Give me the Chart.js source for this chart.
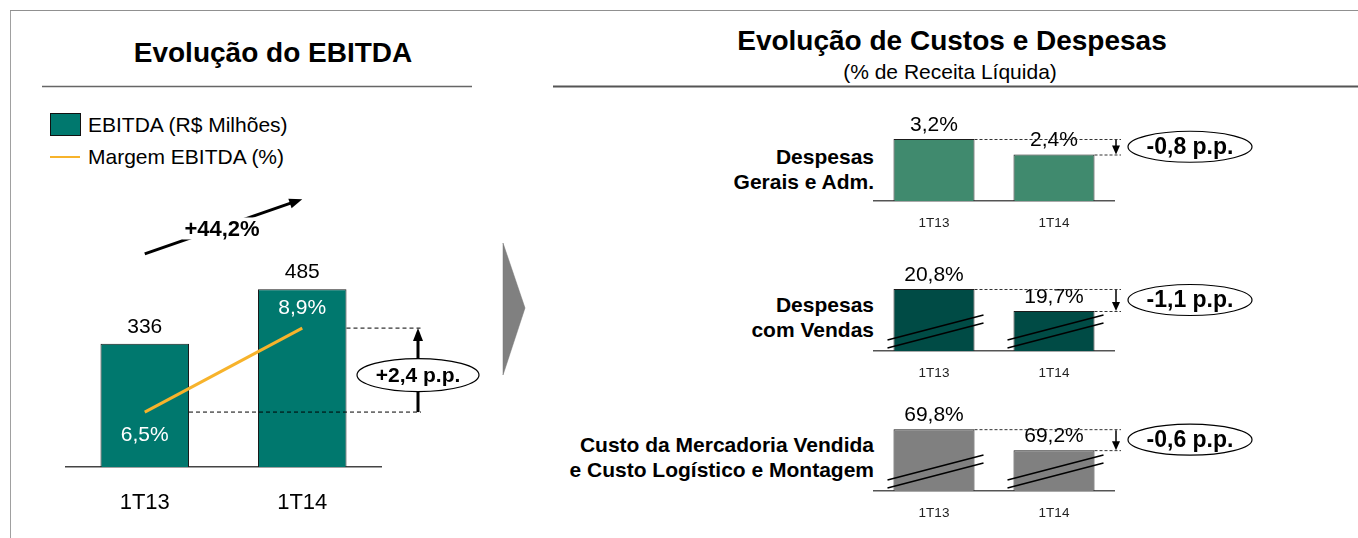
<!DOCTYPE html>
<html><head><meta charset="utf-8">
<script src="https://cdn.jsdelivr.net/npm/chart.js@4.4.1/dist/chart.umd.min.js"></script>
<style>
html,body{margin:0;padding:0;background:#fff;}
body{width:1358px;height:538px;position:relative;overflow:hidden;font-family:"Liberation Sans",Arial,sans-serif;color:#000;}
.abs{position:absolute;}
canvas{position:absolute;}
.title{font-weight:bold;font-size:28px;text-align:center;white-space:nowrap;line-height:32px;}
.rowlab{position:absolute;font-weight:bold;font-size:21px;line-height:25px;text-align:right;white-space:nowrap;}
.leg{position:absolute;font-size:21px;line-height:24px;white-space:nowrap;}
</style></head>
<body>
<svg class="abs" style="left:0;top:0" width="1358" height="538">
 <line x1="10.5" y1="10" x2="10.5" y2="538" stroke="#a0a0a0" stroke-width="1"/>
 <line x1="10" y1="10.5" x2="1358" y2="10.5" stroke="#909090" stroke-width="1"/>
 <line x1="42" y1="86.5" x2="472" y2="86.5" stroke="#666" stroke-width="1.5"/>
 <line x1="553" y1="86.5" x2="1358" y2="86.5" stroke="#555" stroke-width="2"/>
 <polygon points="503,243 525,308 503,375" fill="#808080" stroke="#777" stroke-width="0.5"/>
</svg>
<div class="abs title" style="left:73px;top:37px;width:400px;">Evolução do EBITDA</div>
<div class="abs title" style="left:652px;top:25px;width:600px;">Evolução de Custos e Despesas</div>
<div class="abs" style="left:650px;top:60px;width:600px;text-align:center;font-size:21px;line-height:24px;">(% de Receita Líquida)</div>

<div class="abs" id="legBox" style="left:50px;top:113px;width:29px;height:21px;border:1px solid #111;"></div>
<div class="leg" id="leg0" style="left:88px;top:113px;"></div>
<div class="abs" id="legLine" style="left:50px;top:156px;width:30px;height:2px;"></div>
<div class="leg" id="leg1" style="left:88px;top:145px;"></div>

<div class="rowlab" id="row0" style="right:484px;top:144px;"></div>
<div class="rowlab" id="row1" style="right:484px;top:292px;"></div>
<div class="rowlab" id="row2" style="right:484px;top:432px;"></div>

<canvas id="c0" width="540" height="600" style="left:0;top:0"></canvas>
<canvas id="c1" width="420" height="170" style="left:860px;top:86px"></canvas>
<canvas id="c2" width="420" height="170" style="left:860px;top:236px"></canvas>
<canvas id="c3" width="420" height="170" style="left:860px;top:376px"></canvas>

<script>
// ---------- data ----------
const categories = ['1T13', '1T14'];
const seriesNames = ['EBITDA (R$ Milhões)', 'Margem EBITDA (%)'];
const ebitda = [336, 485];
const margemEbitda = [6.5, 8.9];
const ebitdaGrowth = '+44,2%';
const margemDelta = '+2,4 p.p.';

const rowLabels = [
  ['Despesas', 'Gerais e Adm.'],
  ['Despesas', 'com Vendas'],
  ['Custo da Mercadoria Vendida', 'e Custo Logístico e Montagem']
];
const despGerais = [3.2, 2.4];
const despVendas = [20.8, 19.7];
const custoMerc = [69.8, 69.2];
const deltas = ['-0,8 p.p.', '-1,1 p.p.', '-0,6 p.p.'];

// ---------- style ----------
const FONT = '"Liberation Sans", Arial, sans-serif';
const TEAL = '#00786E';
const ORANGE = '#F7B32B';
const panelColors = ['#408A6E', '#004B45', '#808080'];

const fmtPct = v => v.toFixed(1).replace('.', ',') + '%';

document.getElementById('leg0').textContent = seriesNames[0];
document.getElementById('leg1').textContent = seriesNames[1];
document.getElementById('legBox').style.background = TEAL;
document.getElementById('legLine').style.background = ORANGE;
rowLabels.forEach((r, i) => { document.getElementById('row' + i).innerHTML = r.join('<br>'); });

function arrowHead(ctx, x0, y0, x1, y1, len, half) {
  const a = Math.atan2(y1 - y0, x1 - x0);
  ctx.beginPath();
  ctx.moveTo(x1, y1);
  ctx.lineTo(x1 - len * Math.cos(a) + half * Math.sin(a), y1 - len * Math.sin(a) - half * Math.cos(a));
  ctx.lineTo(x1 - len * Math.cos(a) - half * Math.sin(a), y1 - len * Math.sin(a) + half * Math.cos(a));
  ctx.closePath();
  ctx.fill();
}

// ---------- left chart ----------
const leftAnno = {
  id: 'leftAnno',
  afterDatasetsDraw(chart) {
    const ctx = chart.ctx;
    const bars = chart.getDatasetMeta(1).data.map(e => e.getProps(['x', 'y', 'base', 'width'], true));
    const pts = chart.getDatasetMeta(0).data.map(e => e.getProps(['x', 'y'], true));
    ctx.save();
    ctx.textAlign = 'center';
    ctx.textBaseline = 'middle';
    ctx.fillStyle = '#000';
    ctx.font = '21px ' + FONT;
    bars.forEach((b, i) => ctx.fillText(String(ebitda[i]), b.x, b.y - 17));
    ctx.fillStyle = '#fff';
    const offs = [23, -20];
    pts.forEach((p, i) => ctx.fillText(fmtPct(margemEbitda[i]), p.x, p.y + offs[i]));
    const xA = chart.chartArea.right + 37;
    ctx.strokeStyle = '#000';
    ctx.lineWidth = 1;
    ctx.setLineDash([4, 3]);
    ctx.beginPath();
    ctx.moveTo(bars[1].x + bars[1].width / 2, pts[1].y); ctx.lineTo(xA + 3, pts[1].y);
    ctx.moveTo(bars[0].x + bars[0].width / 2, pts[0].y); ctx.lineTo(xA + 3, pts[0].y);
    ctx.stroke();
    ctx.setLineDash([]);
    ctx.lineWidth = 3;
    ctx.beginPath(); ctx.moveTo(xA, pts[0].y); ctx.lineTo(xA, pts[1].y + 10); ctx.stroke();
    ctx.fillStyle = '#000';
    arrowHead(ctx, xA, pts[0].y, xA, pts[1].y, 13, 5);
    const cy = (pts[0].y + pts[1].y) / 2 + 5;
    ctx.beginPath(); ctx.ellipse(xA, cy, 61, 16.5, 0, 0, Math.PI * 2);
    ctx.fillStyle = '#fff'; ctx.fill();
    ctx.lineWidth = 1.2; ctx.strokeStyle = '#000'; ctx.stroke();
    ctx.fillStyle = '#000';
    ctx.font = 'bold 21px ' + FONT;
    ctx.fillText(margemDelta, xA, cy + 1);
    const x0 = bars[0].x, y0 = bars[0].y - 90, x1 = bars[1].x, y1 = bars[1].y - 90;
    ctx.lineWidth = 3;
    ctx.beginPath(); ctx.moveTo(x0, y0); ctx.lineTo(x1 - 8, y1 + 8 * (y0 - y1) / (x1 - x0)); ctx.stroke();
    arrowHead(ctx, x0, y0, x1, y1, 13, 5);
    ctx.font = 'bold 22px ' + FONT;
    const mx = (x0 + x1) / 2 - 1.5, my = (y0 + y1) / 2 + 3;
    const tw = ctx.measureText(ebitdaGrowth).width;
    ctx.fillStyle = '#fff';
    ctx.fillRect(mx - tw / 2 - 2, my - 12, tw + 4, 22);
    ctx.fillStyle = '#000';
    ctx.fillText(ebitdaGrowth, mx, my);
    ctx.restore();
  }
};

new Chart(document.getElementById('c0'), {
  type: 'bar',
  data: {
    labels: categories,
    datasets: [
      { type: 'line', label: seriesNames[1], data: margemEbitda, yAxisID: 'y2', borderColor: ORANGE, borderWidth: 3, pointRadius: 0, order: 0 },
      { type: 'bar', label: seriesNames[0], data: ebitda, yAxisID: 'y', backgroundColor: TEAL, borderColor: '#1a1a1a', borderWidth: 1, categoryPercentage: 0.562, barPercentage: 1, order: 1 }
    ]
  },
  options: {
    responsive: false, animation: false, devicePixelRatio: 1,
    layout: { padding: { left: 66, right: 159, top: 192, bottom: 61 } },
    plugins: { legend: { display: false }, tooltip: { enabled: false } },
    scales: {
      x: { grid: { display: false, drawTicks: false }, border: { display: true, color: '#444', width: 1.5 },
           ticks: { font: { size: 22, family: FONT }, color: '#000', padding: 23 },
           afterFit: s => { s.height = 72; } },
      y: { display: false, min: 0, max: 750 },
      y2: { display: false, min: 4.93, max: 12.79, position: 'right' }
    }
  },
  plugins: [leftAnno]
});

// ---------- right panels ----------
const panelDeltaByChart = new Map();
const panelAnno = {
  id: 'panelAnno',
  afterDatasetsDraw(chart) {
    const ctx = chart.ctx;
    const bars = chart.getDatasetMeta(0).data.map(e => e.getProps(['x', 'y', 'width'], true));
    const vals = chart.data.datasets[0].data;
    const base = chart.chartArea.bottom;
    const broken = chart.scales.y.min > 0;   // axis does not start at zero -> break marks
    ctx.save();
    ctx.textAlign = 'center';
    ctx.textBaseline = 'middle';
    ctx.fillStyle = '#000';
    ctx.font = '21px ' + FONT;
    bars.forEach((b, i) => ctx.fillText(fmtPct(vals[i]), b.x, b.y - 14));
    if (broken) {
      ctx.strokeStyle = '#000';
      ctx.lineWidth = 1.5;
      bars.forEach(b => {
        const l = b.x - b.width / 2 - 6, r = b.x + b.width / 2 + 9;
        ctx.beginPath();
        for (const d of [0, 8]) { ctx.moveTo(l, base - 11 + d); ctx.lineTo(r, base - 36 + d); }
        ctx.stroke();
      });
    }
    const xA = chart.chartArea.right + 2;
    ctx.strokeStyle = '#333';
    ctx.lineWidth = 1;
    ctx.setLineDash([3, 2]);
    ctx.beginPath();
    ctx.moveTo(bars[0].x + bars[0].width / 2, bars[0].y + 0.5); ctx.lineTo(xA + 5, bars[0].y + 0.5);
    ctx.moveTo(bars[1].x + bars[1].width / 2, bars[1].y + 0.5); ctx.lineTo(xA + 5, bars[1].y + 0.5);
    ctx.stroke();
    ctx.setLineDash([]);
    ctx.strokeStyle = '#000';
    ctx.fillStyle = '#000';
    ctx.lineWidth = 1.5;
    ctx.beginPath(); ctx.moveTo(xA, bars[0].y + 1); ctx.lineTo(xA, bars[1].y - 6); ctx.stroke();
    arrowHead(ctx, xA, bars[0].y, xA, bars[1].y, 9, 4);
    const cx = chart.chartArea.right + 76, cy = (bars[0].y + bars[1].y) / 2;
    ctx.beginPath(); ctx.ellipse(cx, cy, 62, 15.5, 0, 0, Math.PI * 2);
    ctx.fillStyle = '#fff'; ctx.fill();
    ctx.lineWidth = 1.2; ctx.stroke();
    ctx.fillStyle = '#000';
    ctx.font = 'bold 23px ' + FONT;
    ctx.fillText(panelDeltaByChart.get(chart.canvas.id), cx, cy + 1);
    ctx.restore();
  }
};

function makePanel(id, name, values, min, max, color, delta) {
  panelDeltaByChart.set(id, delta);
  new Chart(document.getElementById(id), {
    type: 'bar',
    data: {
      labels: categories,
      datasets: [{ label: name, data: values, backgroundColor: color, borderColor: '#1a1a1a', borderWidth: 1, categoryPercentage: 0.675, barPercentage: 1 }]
    },
    options: {
      responsive: false, animation: false, devicePixelRatio: 1,
      layout: { padding: { left: 14, right: 166, top: 35, bottom: 15 } },
      plugins: { legend: { display: false }, tooltip: { enabled: false } },
      scales: {
        x: { grid: { display: false, drawTicks: false }, border: { display: true, color: '#555', width: 1.5 },
             ticks: { font: { size: 13.5, family: FONT }, color: '#222', padding: 14 },
             afterFit: s => { s.height = 40; } },
        y: { display: false, min, max }
      }
    },
    plugins: [panelAnno]
  });
}

makePanel('c1', rowLabels[0].join(' '), despGerais, 0, 4.13, panelColors[0], deltas[0]);
makePanel('c2', rowLabels[1].join(' '), despVendas, 17.7, 21.7, panelColors[1], deltas[1]);
makePanel('c3', rowLabels[2].join(' '), custoMerc, 68.03, 70.32, panelColors[2], deltas[2]);
</script>
</body></html>
